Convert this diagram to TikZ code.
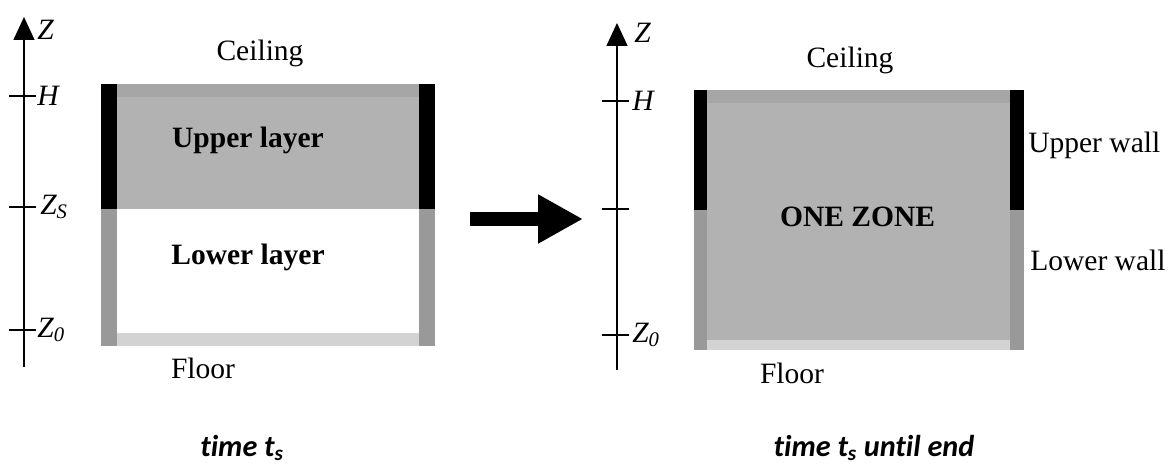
\documentclass[tikz,border=0pt]{standalone}
\usepackage{fontspec}
\setmainfont{Liberation Serif}
\newfontfamily\capfont[Ligatures=NoCommon]{Carlito}
\usetikzlibrary{arrows.meta}
\definecolor{wallgrey}{HTML}{999999}
\definecolor{ceilgrey}{HTML}{A6A6A6}
\definecolor{gasgrey}{HTML}{B2B2B2}
\definecolor{floorgrey}{HTML}{D3D3D3}
% vertical height axis: x, bottom, top
\newcommand{\zaxis}[3]{%
  \draw[ax,-{Triangle[length=5.75mm,width=5.25mm]}] (#1,#2) -- (#1,#3);}
% a short tick across the axis: x, y
\newcommand{\ztick}[2]{%
  \draw[ax] (#1-0.375,#2) -- (#1+0.3,#2);}

\begin{document}
\begin{tikzpicture}[
  every node/.style={font=\fontsize{21}{24}\selectfont},
  ax/.style={line width=1pt},
  lbl/.style={anchor=west,inner sep=0pt},
  timecap/.style={font=\capfont\bfseries\itshape\fontsize{21.5}{24}\selectfont},
]
\useasboundingbox (0,0) rectangle (29.2,11.7);

% ===== before t_s : two layers =====
\zaxis{0.6}{2.525}{11.275}
\ztick{0.6}{9.3}\ztick{0.6}{6.525}\ztick{0.6}{3.45}
\node[lbl] (zL)  at (0.93,10.95) {\textit{Z}};
\node[lbl] (hL)  at (0.93,9.3)   {\textit{H}};
\node[lbl] (zsL) at (1.0,6.525)  {\textit{Z\textsubscript{S}}};
\node[lbl] (z0L) at (0.93,3.45)  {\textit{Z\textsubscript{0}}};

\def\xa{2.525}\def\xb{10.875}\def\ya{3.05}\def\yb{9.6}\def\ys{6.475}\def\w{0.4}
\fill[gasgrey]   (\xa,\ys) rectangle (\xb,\yb);
\fill[ceilgrey]  (\xa,9.275) rectangle (\xb,\yb);
\fill[floorgrey] (\xa,\ya) rectangle (\xb,3.375);
\fill[black]     (\xa,\ys) rectangle (\xa+\w,\yb);
\fill[wallgrey]  (\xa,\ya) rectangle (\xa+\w,\ys);
\fill[black]     (\xb-\w,\ys) rectangle (\xb,\yb);
\fill[wallgrey]  (\xb-\w,\ya) rectangle (\xb,\ys);

\node (ceilL)  at (6.5,10.375) {Ceiling};
\node (upper)  at (6.2,8.2)    {\textbf{Upper layer}};
\node (lower)  at (6.2,5.275)  {\textbf{Lower layer}};
\node (floorL) at (5.075,2.5)  {Floor};
\node[timecap] (tL) at (6.05,0.5) {time t\textsubscript{s}};

% ===== transition =====
\coordinate (from) at (11.75,6.225);
\coordinate (to)   at (14.575,6.225);
\draw[line width=3.5mm,-{Triangle[length=11.25mm,width=11.5mm]}] (from) -- (to);

% ===== after t_s : one zone =====
\zaxis{15.425}{2.45}{11.125}
\ztick{15.425}{9.175}\ztick{15.425}{6.475}\ztick{15.425}{3.325}
\node[lbl] (zR)  at (15.85,10.875) {\textit{Z}};
\node[lbl] (hR)  at (15.8,9.175)   {\textit{H}};
\node[lbl] (z0R) at (15.8,3.325)   {\textit{Z\textsubscript{0}}};

\def\xa{17.34}\def\xb{25.6}\def\ya{2.95}\def\yb{9.45}\def\ys{6.45}\def\w{0.34}
\fill[gasgrey]   (\xa,\ya) rectangle (\xb,\yb);
\fill[ceilgrey]  (\xa,9.125) rectangle (\xb,\yb);
\fill[floorgrey] (\xa,\ya) rectangle (\xb,3.2);
\fill[black]     (\xa,\ys) rectangle (\xa+\w,\yb);
\fill[wallgrey]  (\xa,\ya) rectangle (\xa+\w,\ys);
\fill[black]     (\xb-\w,\ys) rectangle (\xb,\yb);
\fill[wallgrey]  (\xb-\w,\ya) rectangle (\xb,\ys);

\node (ceilR)  at (21.25,10.2)  {Ceiling};
\node (zone)   at (21.44,6.275) {\textbf{ONE ZONE}};
\node[lbl] (uwall) at (25.7,8.075) {Upper wall};
\node[lbl] (lwall) at (25.75,5.2)  {Lower wall};
\node (floorR) at (19.8,2.375)  {Floor};
\node[timecap] (tR) at (21.85,0.5) {time t\textsubscript{s} until end};
\end{tikzpicture}
\end{document}
